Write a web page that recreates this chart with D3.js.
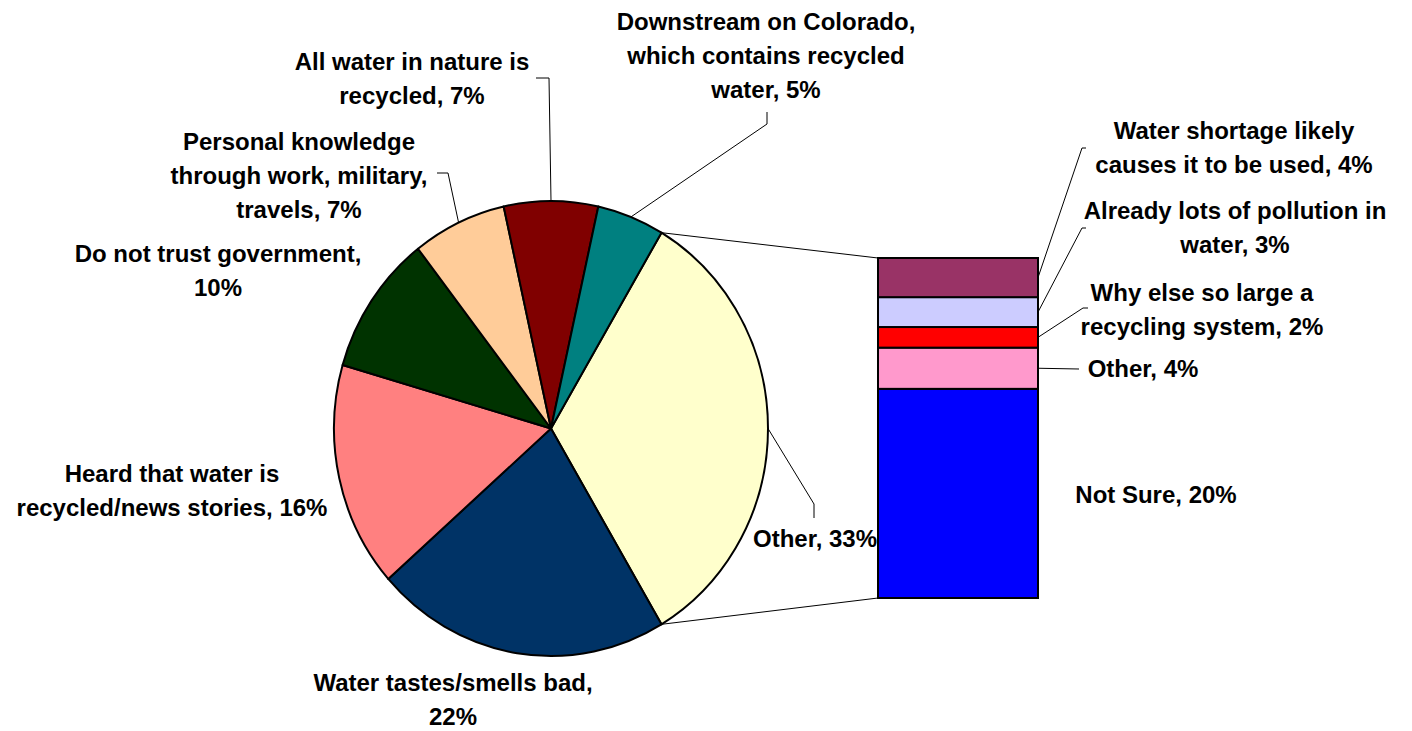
<!DOCTYPE html>
<html>
<head>
<meta charset="UTF-8">
<title>Pie of bar</title>
<script src="https://d3js.org/d3.v7.min.js"></script>
<style>
html, body { margin: 0; padding: 0; background: #fff; }
svg { display: block; }
.lbl { font-family: "Liberation Sans", Arial, sans-serif; font-weight: bold; font-size: 24px; fill: #000; }
.leader { fill: none; stroke: #000; stroke-width: 1; }
</style>
</head>
<body>
<div id="chart"></div>
<script>
// pie slices, clockwise starting with the "Other" slice that is split out into the bar
// "|" marks a line break in the label
var pieCategories = ["Other", "Water tastes/smells bad|", "Heard that water is|recycled/news stories",
  "Do not trust government|", "Personal knowledge|through work, military,|travels",
  "All water in nature is|recycled", "Downstream on Colorado,|which contains recycled|water"];
var pieValues = [33, 22, 16, 10, 7, 7, 5];
var pieColors = ["#FFFFCC", "#003366", "#FF8080", "#003300", "#FFCC99", "#800000", "#008080"];

// bar segments, bottom to top
var barCategories = ["Not Sure", "Other", "Why else so large a|recycling system",
  "Already lots of pollution in|water", "Water shortage likely|causes it to be used"];
var barValues = [20.3, 4.0, 2.0, 2.9, 3.8];
var barColors = ["#0000FF", "#FF99CC", "#FF0000", "#CCCCFF", "#993366"];

// label placement: text centre x, first line centre y, leader elbow points
var pieLabelPos = [
  {x: 815, y: 539, elbow: [[814, 504], [814, 518]]},
  {x: 453, y: 683, elbow: null},
  {x: 172, y: 474, elbow: null},
  {x: 218, y: 254, elbow: null},
  {x: 299, y: 142, elbow: [[448, 173], [437, 173]]},
  {x: 412, y: 62, elbow: [[549, 78], [536, 78]]},
  {x: 766, y: 22, elbow: [[767, 124], [767, 112]]}
];
var barLabelPos = [
  {x: 1156, y: 495, elbow: null},
  {x: 1143, y: 369, elbow: [[1079, 369]]},
  {x: 1202, y: 293, elbow: [[1083, 308], [1088, 308]]},
  {x: 1235, y: 211, elbow: [[1082, 228], [1086, 228]]},
  {x: 1234, y: 131, elbow: [[1082, 148], [1086, 148]]}
];

var W = 1412, H = 731;
var cx = 551, cy = 428.5, rx = 217, ry = 227.5;
var barX = 878, barW = 160, barTop = 258, barBottom = 598;
var lineH = 34;

var svg = d3.select("#chart").append("svg")
  .attr("width", W)
  .attr("height", H);

function labelText(name, v) {
  var pct = Math.round(v) + "%";
  if (name.slice(-1) == "|") return name.slice(0, -1) + ",|" + pct;
  return name + ", " + pct;
}

function drawLabel(g, text, pos) {
  var t = g.append("text").attr("class", "lbl").attr("text-anchor", "middle");
  text.split("|").forEach(function(s, i) {
    t.append("tspan")
      .attr("x", pos.x)
      .attr("y", pos.y + i * lineH)
      .attr("dy", "0.35em")
      .text(s);
  });
}

// pie, with the "Other" slice centred at 3 o'clock
var total = d3.sum(pieValues);
var start = Math.PI / 2 - pieValues[0] / total * Math.PI;
var pie = d3.pie().sort(null).startAngle(start).endAngle(start + 2 * Math.PI);
var arcs = pie(pieValues);
var arc = d3.arc().innerRadius(0).outerRadius(rx);

svg.append("g")
  .attr("transform", "translate(" + cx + "," + cy + ") scale(1," + (ry / rx) + ")")
  .selectAll("path")
  .data(arcs)
  .enter().append("path")
  .attr("d", arc)
  .attr("fill", function(d, i) { return pieColors[i]; })
  .attr("stroke", "#000")
  .attr("stroke-width", 2)
  .attr("stroke-linejoin", "round")
  .attr("vector-effect", "non-scaling-stroke");

function onPie(a) {
  return [cx + rx * Math.sin(a), cy - ry * Math.cos(a)];
}

// connector lines from the split slice to the bar
var y = d3.scaleLinear().domain([0, d3.sum(barValues)]).range([barBottom, barTop]);
var line = d3.line();
svg.append("path").attr("class", "leader")
  .attr("d", line([onPie(arcs[0].startAngle), [barX, y(d3.sum(barValues))]]));
svg.append("path").attr("class", "leader")
  .attr("d", line([onPie(arcs[0].endAngle), [barX, y(0)]]));

// pie labels and leaders
var labels = svg.append("g");
arcs.forEach(function(d, i) {
  var pos = pieLabelPos[i];
  if (pos.elbow) {
    var p0 = onPie((d.startAngle + d.endAngle) / 2);
    labels.append("path").attr("class", "leader")
      .attr("d", line([p0].concat(pos.elbow)));
  }
  drawLabel(labels, labelText(pieCategories[i], d.value), pos);
});

// stacked bar
var cum = 0;
var segs = barValues.map(function(v, i) {
  var s = {i: i, v: v, y0: cum, y1: cum + v};
  cum += v;
  return s;
});

segs.forEach(function(s) {
  var pos = barLabelPos[s.i];
  if (pos.elbow) {
    var p0 = [barX + barW, y((s.y0 + s.y1) / 2)];
    labels.append("path").attr("class", "leader")
      .attr("d", line([p0].concat(pos.elbow)));
  }
  drawLabel(labels, labelText(barCategories[s.i], s.v), pos);
});

svg.append("g").selectAll("rect")
  .data(segs)
  .enter().append("rect")
  .attr("x", barX)
  .attr("y", function(d) { return y(d.y1); })
  .attr("width", barW)
  .attr("height", function(d) { return y(d.y0) - y(d.y1); })
  .attr("fill", function(d) { return barColors[d.i]; })
  .attr("stroke", "#000")
  .attr("stroke-width", 2);
</script>
</body>
</html>
